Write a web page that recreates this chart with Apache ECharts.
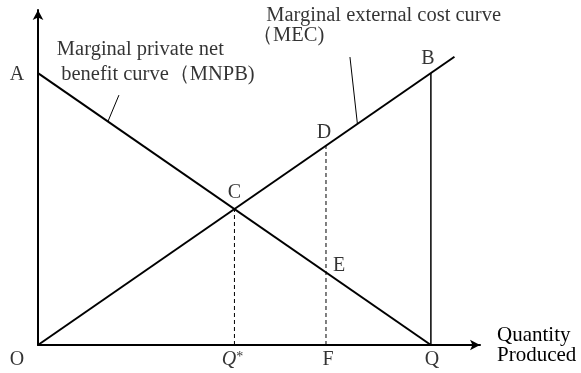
<!DOCTYPE html>
<html>
<head>
<meta charset="utf-8">
<script src="https://cdn.jsdelivr.net/npm/echarts@6/dist/echarts.min.js"></script>
<style>
    html, body { margin: 0; padding: 0; background: #fff; }
    #main { width: 581px; height: 373px; }
</style>
</head>
<body>
<div id="main"></div>
<script>
// 曲线数据
var mnpbX = [0, 10];
var mnpbY = [10, 0];
var mecX = [0, 10.6];
var mecY = [0, 10.6];

// 竖线 (x, 顶点y)
var qStarX = 5, qStarTop = 5;
var fX = 7.33, fTop = 7.33;
var qX = 10, qTop = 10;

// 点标注
var pointNames = ['A', 'B', 'C', 'D', 'E'];
var pointX = [0, 10, 5, 7.33, 7.33];
var pointY = [10, 10, 5, 7.33, 2.67];

// 横轴下标注
var axisNames = ['O', 'Q*', 'F', 'Q'];
var axisX = [0, 5, 7.33, 10];

// 曲线说明文字
var noteLines = ['Marginal private net', 'benefit curve（MNPB)', 'Marginal external cost curve', '（MEC)'];
var noteX = [0.48, 0.59, 5.81, 5.45];
var noteY = [10.88, 9.93, 12.13, 11.36];

// 引线
var leaderMnpb = [[1.78, 8.22], [2.06, 9.19]];
var leaderMec = [[8.13, 8.13], [7.94, 10.59]];

var FONT = 'Liberation Serif';
var FS = 20;

function zip(xs, ys) {
    var out = [];
    for (var i = 0; i < xs.length; i++) out.push([xs[i], ys[i]]);
    return out;
}

function lineSeries(data, width, type) {
    return {
        type: 'line',
        data: data,
        symbol: 'none',
        silent: true,
        animation: false,
        lineStyle: {color: '#000', width: width, type: type || 'solid'}
    };
}

var pointOffsets = {A: [-21, 2], B: [-3, -14], C: [0, -16], D: [-2, -13], E: [13, -7]};
var axisOffsets = {'O': [-21, 15], 'Q*': [-2, 15], 'F': [2, 15], 'Q': [1, 15]};

var labelData = [];
pointNames.forEach(function (n, i) {
    labelData.push({value: [pointX[i], pointY[i]], name: n,
        label: {offset: pointOffsets[n]}});
});
axisNames.forEach(function (n, i) {
    labelData.push({value: [axisX[i], 0], name: n,
        label: {offset: axisOffsets[n]}});
});

var noteData = noteLines.map(function (t, i) {
    return {value: [noteX[i], noteY[i]], name: t};
});

var myChart = echarts.init(document.getElementById('main'));

var option = {
    backgroundColor: '#fff',
    animation: false,
    grid: {left: 38, right: 101, top: 10, bottom: 28, containLabel: false},
    xAxis: {
        type: 'value', min: 0, max: 11.25,
        name: 'Quantity\nProduced',
        nameLocation: 'end',
        nameGap: 17,
        nameTextStyle: {
            fontFamily: FONT, fontSize: 21, color: '#000',
            align: 'left', verticalAlign: 'middle', lineHeight: 20,
            padding: [0, 0, 10, 0]
        },
        axisLine: {onZero: false, lineStyle: {color: '#000', width: 2},
            symbol: ['none', 'arrow'], symbolSize: [8, 10]},
        axisTick: {show: false},
        axisLabel: {show: false},
        splitLine: {show: false}
    },
    yAxis: {
        type: 'value', min: 0, max: 12.32,
        axisLine: {onZero: false, lineStyle: {color: '#000', width: 2},
            symbol: ['none', 'arrow'], symbolSize: [8, 10]},
        axisTick: {show: false},
        axisLabel: {show: false},
        splitLine: {show: false}
    },
    series: [
        lineSeries(zip(mnpbX, mnpbY), 2),
        lineSeries(zip(mecX, mecY), 2),
        lineSeries([[qX, 0], [qX, qTop]], 1.5),
        lineSeries([[qStarX, 0], [qStarX, qStarTop]], 1, [4, 3]),
        lineSeries([[fX, 0], [fX, fTop]], 1, [4, 3]),
        lineSeries(leaderMnpb, 1),
        lineSeries(leaderMec, 1),
        {
            type: 'scatter',
            symbolSize: 0,
            silent: true,
            data: labelData,
            label: {
                show: true,
                position: 'inside',
                fontFamily: FONT, fontSize: FS, color: '#000',
                formatter: function (p) {
                    if (p.name === 'Q*') return '{q|Q}{s|*}';
                    return p.name;
                },
                rich: {
                    q: {fontFamily: FONT, fontSize: FS, fontStyle: 'italic', color: '#000'},
                    s: {fontFamily: FONT, fontSize: 14, color: '#000', verticalAlign: 'top', padding: [0, 0, 6, 0]}
                }
            }
        },
        {
            type: 'scatter',
            symbolSize: 0,
            silent: true,
            data: noteData,
            label: {
                show: true,
                position: 'inside',
                align: 'left',
                verticalAlign: 'middle',
                fontFamily: FONT, fontSize: 20.5, color: '#000',
                formatter: '{b}'
            }
        }
    ]
};

myChart.setOption(option);
</script>
</body>
</html>
